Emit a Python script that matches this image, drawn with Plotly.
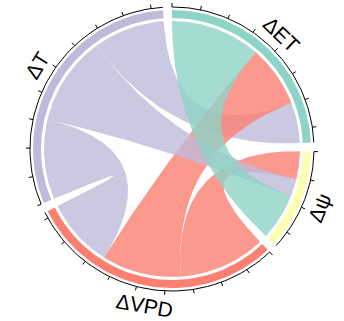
import numpy as np
import plotly.graph_objects as go

# ---- data ----
groups = ["ΔET", "Δψ", "ΔVPD", "ΔT"]
colors = ["#8dd3c7", "#ffffb3", "#fb8072", "#bebada"]
# flow values (row = group, column = partner group), same units as the ticks
et_row = [0.00, 3.53, 2.41, 1.59]
psi_row = [1.81, 0.00, 1.10, 0.69]
vpd_row = [3.10, 3.41, 0.00, 2.71]
t_row = [2.79, 3.50, 3.12, 0.00]
# clockwise order of partner groups inside every group
sub_order = [[1, 2, 3], [2, 3, 0], [1, 0, 3], [2, 1, 0]]
tick_step = 1.0

matrix = np.array([et_row, psi_row, vpd_row, t_row])
n = len(groups)

# ---- layout constants ----
W, H = 344, 321
CX, CY = 172, 149            # pixel position of the centre
PAD = np.deg2rad(3.7)
R_CHORD = 128
R_BAND_IN, R_BAND_OUT = 131, 139
R_AXIS, R_TICK = 142, 146
R_LABEL = 158.5
OPACITY = 0.8

totals = matrix.sum(axis=1)
k = (2 * np.pi - PAD * n) / totals.sum()

group_angles = []
sub_angles = {}
a = 0.0
for i in range(n):
    g0 = a
    for j in sub_order[i]:
        w = matrix[i, j] * k
        sub_angles[(i, j)] = (a, a + w)
        a += w
    group_angles.append((g0, a))
    a += PAD


def pt(r, th):
    return r * np.sin(th), r * np.cos(th)


def arc(r, a0, a1, num=60):
    th = np.linspace(a0, a1, num)
    return list(r * np.sin(th)), list(r * np.cos(th))


def bez(p0, p2, num=60):
    t = np.linspace(0, 1, num)
    x = (1 - t) ** 2 * p0[0] + t ** 2 * p2[0]
    y = (1 - t) ** 2 * p0[1] + t ** 2 * p2[1]
    return list(x), list(y)


def hex_rgba(h, al):
    h = h.lstrip("#")
    return "rgba(%d,%d,%d,%.2f)" % (int(h[0:2], 16), int(h[2:4], 16), int(h[4:6], 16), al)


fig = go.Figure()

# chords
pairs = [(0, 3), (2, 3), (0, 2), (1, 2), (1, 3), (0, 1)]
for i, j in pairs:
    s0, s1 = sub_angles[(i, j)]
    t0, t1 = sub_angles[(j, i)]
    ci = i if matrix[i, j] >= matrix[j, i] else j
    xs, ys = [], []
    ax_, ay_ = arc(R_CHORD, s0, s1)
    xs += ax_; ys += ay_
    bx, by = bez(pt(R_CHORD, s1), pt(R_CHORD, t0))
    xs += bx; ys += by
    ax_, ay_ = arc(R_CHORD, t0, t1)
    xs += ax_; ys += ay_
    bx, by = bez(pt(R_CHORD, t1), pt(R_CHORD, s0))
    xs += bx; ys += by
    fig.add_trace(go.Scatter(x=xs, y=ys, mode="lines", fill="toself",
                             fillcolor=hex_rgba(colors[ci], OPACITY),
                             line=dict(width=0, color="rgba(0,0,0,0)"),
                             hoverinfo="skip", showlegend=False))

# group bands
for i in range(n):
    g0, g1 = group_angles[i]
    ox, oy = arc(R_BAND_OUT, g0, g1)
    ix, iy = arc(R_BAND_IN, g1, g0)
    fig.add_trace(go.Scatter(x=ox + ix + [ox[0]], y=oy + iy + [oy[0]], mode="lines",
                             fill="toself", fillcolor=colors[i],
                             line=dict(width=0, color="rgba(0,0,0,0)"),
                             hoverinfo="skip", showlegend=False))

# axis arcs and ticks
lx, ly = [], []
for i in range(n):
    g0, g1 = group_angles[i]
    ax_, ay_ = arc(R_AXIS, g0, g1)
    lx += ax_ + [None]; ly += ay_ + [None]
    v = 0.0
    while v <= totals[i] + 1e-9:
        th = g0 + v * k
        p1 = pt(R_AXIS, th); p2 = pt(R_TICK, th)
        lx += [p1[0], p2[0], None]; ly += [p1[1], p2[1], None]
        v += tick_step
fig.add_trace(go.Scatter(x=lx, y=ly, mode="lines", line=dict(color="black", width=1),
                         hoverinfo="skip", showlegend=False))

# labels
for i in range(n):
    g0, g1 = group_angles[i]
    mid = (g0 + g1) / 2
    x, y = pt(R_LABEL, mid)
    deg = np.rad2deg(mid)
    rot = deg if deg < 90 else (deg - 180 if deg < 270 else deg - 360)
    fig.add_annotation(x=x, y=y, text=groups[i], showarrow=False, textangle=rot,
                       font=dict(family="Liberation Sans, Arial", size=21, color="black"),
                       xanchor="center", yanchor="middle", borderpad=0)

fig.update_layout(width=W, height=H, margin=dict(l=0, r=0, t=0, b=0),
                  paper_bgcolor="white", plot_bgcolor="white",
                  xaxis=dict(range=[-CX, W - CX], visible=False, fixedrange=True),
                  yaxis=dict(range=[CY - H, CY], visible=False, fixedrange=True),
                  showlegend=False)
fig.write_html("out.html")
